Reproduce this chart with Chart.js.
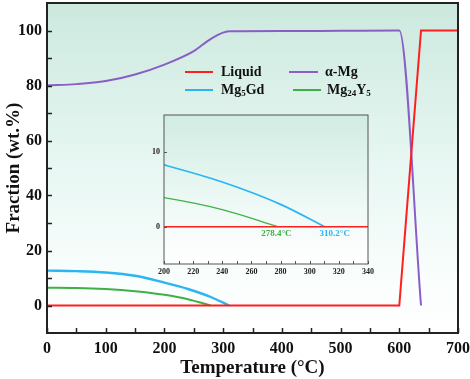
<!DOCTYPE html>
<html><head><meta charset="utf-8">
<script src="https://cdn.jsdelivr.net/npm/chart.js@4"></script>
<style>
html,body{margin:0;padding:0;background:#fff;}
#wrap{position:relative;width:470px;height:379px;overflow:hidden;}
#main{position:absolute;left:0;top:0;}
#inset{position:absolute;left:138px;top:108px;}
</style></head><body>
<div id="wrap">
<canvas id="main" width="470" height="379"></canvas>
<canvas id="inset" width="244" height="170"></canvas>
</div>
<script>
// ---- data ----
const liquidT = [0, 600, 637, 700];
const liquidF = [0, 0, 100, 100];
const alphaT = [0, 50, 100, 150, 200, 250, 278, 310, 400, 500, 600, 637];
const alphaF = [80, 80.5, 81.6, 84.0, 87.6, 92.5, 96.8, 99.7, 99.8, 99.9, 100, 0];
const gdT = [0, 50, 100, 150, 200, 240, 280, 310.2];
const gdF = [12.7, 12.5, 12.0, 10.8, 8.3, 6.0, 3.0, 0];
const yT = [0, 50, 100, 150, 200, 240, 278.4];
const yF = [6.5, 6.4, 6.0, 5.2, 3.9, 2.3, 0];
const seriesNames = ['Liquid', 'α-Mg', 'Mg5Gd', 'Mg24Y5'];
const seriesColors = ['#ff1f1f', '#8a5ec6', '#2bb6f2', '#3eb046'];
const xTickLabels = [0, 100, 200, 300, 400, 500, 600, 700];
const xMinorTicks = [50, 150, 250, 350, 450, 550, 650];
const yTickLabels = [0, 20, 40, 60, 80, 100];
const yMinorTicks = [10, 30, 50, 70, 90];
const insetXTicks = [200, 220, 240, 260, 280, 300, 320, 340];
const insetXMinor = [210, 230, 250, 270, 290, 310, 330];
const insetYTicks = [0, 10];
const annotT = [278.4, 310.2];
const annotText = ['278.4°C', '310.2°C'];

const pts = (t, f) => t.map((v, i) => ({x: v, y: f[i]}));
const SERIF = '"Liberation Serif", "Times New Roman", serif';

function makeDatasets(w) {
  return [
    {label: seriesNames[0], data: pts(liquidT, liquidF), borderColor: seriesColors[0], borderWidth: w},
    {label: seriesNames[1], data: pts(alphaT, alphaF), borderColor: seriesColors[1], borderWidth: w, cubicInterpolationMode: 'monotone'},
    {label: seriesNames[2], data: pts(gdT, gdF), borderColor: seriesColors[2], borderWidth: w + 0.4, cubicInterpolationMode: 'monotone'},
    {label: seriesNames[3], data: pts(yT, yF), borderColor: seriesColors[3], borderWidth: w, cubicInterpolationMode: 'monotone'}
  ].map(d => Object.assign(d, {pointRadius: 0, fill: false, tension: 0}));
}

function bgPlugin(stops) {
  return {
    id: 'bg',
    beforeDraw(chart) {
      const a = chart.chartArea, c = chart.ctx;
      const g = c.createLinearGradient(0, a.top, 0, a.bottom);
      stops.forEach(s => g.addColorStop(s[0], s[1]));
      c.save(); c.fillStyle = g; c.fillRect(a.left, a.top, a.right - a.left, a.bottom - a.top); c.restore();
    }
  };
}

function framePlugin(opts) {
  return {
    id: 'frame',
    afterDraw(chart) {
      const a = chart.chartArea, c = chart.ctx, xs = chart.scales.x, ys = chart.scales.y;
      c.save();
      c.strokeStyle = opts.color; c.lineWidth = opts.tickWidth;
      c.beginPath();
      opts.xMajor.concat(opts.xMinor).forEach(v => {
        const p = Math.round(xs.getPixelForValue(v)) + 0.5;
        c.moveTo(p, a.bottom); c.lineTo(p, a.bottom - opts.tick);
      });
      opts.yMajor.concat(opts.yMinor).forEach(v => {
        const p = Math.round(ys.getPixelForValue(v)) + 0.5;
        c.moveTo(a.left, p); c.lineTo(a.left + opts.tick, p);
      });
      c.stroke();
      c.lineWidth = opts.frameWidth;
      c.strokeRect(a.left, a.top, a.right - a.left, a.bottom - a.top);
      c.restore();
    }
  };
}

function drawSubLabel(c, parts, x, y, big, small) {
  let cx = x;
  parts.forEach(p => {
    if (p.sub) {
      c.font = 'bold ' + small + 'px ' + SERIF;
      c.fillText(p.t, cx, y + big * 0.28);
    } else {
      c.font = 'bold ' + big + 'px ' + SERIF;
      c.fillText(p.t, cx, y);
    }
    cx += c.measureText(p.t).width;
  });
}

const legendPlugin = {
  id: 'customLegend',
  afterDraw(chart) {
    const c = chart.ctx;
    const items = [
      {col: 0, lx: 185, lw: 28, tx: 221, y: 72, parts: [{t: 'Liquid'}]},
      {col: 1, lx: 289, lw: 29, tx: 325, y: 72, parts: [{t: 'α-Mg'}]},
      {col: 2, lx: 185, lw: 28, tx: 221, y: 90, parts: [{t: 'Mg'}, {t: '5', sub: 1}, {t: 'Gd'}]},
      {col: 3, lx: 293, lw: 28, tx: 327, y: 90, parts: [{t: 'Mg'}, {t: '24', sub: 1}, {t: 'Y'}, {t: '5', sub: 1}]}
    ];
    c.save();
    items.forEach(it => {
      c.strokeStyle = seriesColors[it.col]; c.lineWidth = 2;
      c.beginPath(); c.moveTo(it.lx, it.y); c.lineTo(it.lx + it.lw, it.y); c.stroke();
      c.fillStyle = '#111'; c.textBaseline = 'middle'; c.textAlign = 'left';
      drawSubLabel(c, it.parts, it.tx, it.y, 14, 9);
    });
    c.restore();
  }
};

const zeroPadX = s => { s.paddingLeft = 0; s.paddingRight = 0; };
const zeroPadY = s => { s.paddingTop = 0; s.paddingBottom = 0; };
const tickFont = {family: SERIF, size: 16, weight: 'bold'};
const noGrid = {display: false, drawTicks: false};

new Chart(document.getElementById('main'), {
  type: 'line',
  data: {datasets: makeDatasets(2)},
  options: {
    responsive: false, animation: false, devicePixelRatio: 1,
    layout: {padding: {top: 3, right: 12, left: 0, bottom: 0}},
    plugins: {legend: {display: false}, tooltip: {enabled: false}},
    scales: {
      x: {
        type: 'linear', min: 0, max: 700,
        afterBuildTicks: s => { s.ticks = xTickLabels.map(v => ({value: v})); },
        afterFit: s => { s.height = 46; zeroPadX(s); },
        grid: noGrid, border: {display: false},
        ticks: {font: tickFont, color: '#111', padding: 6, maxRotation: 0, autoSkip: false},
        title: {display: true, text: 'Temperature (°C)', font: {family: SERIF, size: 19, weight: 'bold'}, color: '#111', padding: {top: 0, bottom: 0}}
      },
      y: {
        type: 'linear', min: -10, max: 110,
        afterBuildTicks: s => { s.ticks = yTickLabels.map(v => ({value: v})); },
        afterFit: s => { s.width = 47; zeroPadY(s); },
        grid: noGrid, border: {display: false},
        ticks: {font: tickFont, color: '#111', padding: 5, autoSkip: false},
        title: {display: true, text: 'Fraction (wt.%)', font: {family: SERIF, size: 19, weight: 'bold'}, color: '#111', padding: {top: 3, bottom: 0}}
      }
    }
  },
  plugins: [
    bgPlugin([[0, 'rgb(204,233,222)'], [0.5, 'rgb(232,247,243)'], [0.85, 'rgb(250,254,253)'], [1, '#ffffff']]),
    framePlugin({color: '#222', tick: 5, tickWidth: 1.5, frameWidth: 2, xMajor: xTickLabels, xMinor: xMinorTicks, yMajor: yTickLabels, yMinor: yMinorTicks}),
    legendPlugin
  ]
});

const annotPlugin = {
  id: 'annot',
  afterDraw(chart) {
    const c = chart.ctx, xs = chart.scales.x, ys = chart.scales.y;
    const y0 = ys.getPixelForValue(0) + 7;
    const offs = [-17, -5];
    const cols = [seriesColors[3], seriesColors[2]];
    c.save();
    c.font = 'bold 9px ' + SERIF; c.textBaseline = 'middle'; c.textAlign = 'left';
    annotT.forEach((t, i) => {
      c.fillStyle = cols[i];
      c.fillText(annotText[i], xs.getPixelForValue(t) + offs[i], y0);
    });
    c.restore();
  }
};

const smallFont = {family: SERIF, size: 8, weight: 'bold'};
new Chart(document.getElementById('inset'), {
  type: 'line',
  data: {datasets: makeDatasets(1.3)},
  options: {
    responsive: false, animation: false, devicePixelRatio: 1,
    layout: {padding: {top: 7, right: 14, left: 0, bottom: 0}},
    plugins: {legend: {display: false}, tooltip: {enabled: false}},
    scales: {
      x: {
        type: 'linear', min: 200, max: 340,
        afterBuildTicks: s => { s.ticks = insetXTicks.map(v => ({value: v})); },
        afterFit: s => { s.height = 14; zeroPadX(s); },
        grid: noGrid, border: {display: false},
        ticks: {font: smallFont, color: '#222', padding: 3, maxRotation: 0, autoSkip: false}
      },
      y: {
        type: 'linear', min: -5, max: 15,
        afterBuildTicks: s => { s.ticks = insetYTicks.map(v => ({value: v})); },
        afterFit: s => { s.width = 26; zeroPadY(s); },
        grid: noGrid, border: {display: false},
        ticks: {font: smallFont, color: '#222', padding: 4, autoSkip: false}
      }
    }
  },
  plugins: [
    bgPlugin([[0, 'rgb(208,236,226)'], [0.6, 'rgb(238,249,246)'], [1, '#ffffff']]),
    framePlugin({color: '#555', tick: 3, tickWidth: 1, frameWidth: 1, xMajor: insetXTicks, xMinor: insetXMinor, yMajor: insetYTicks, yMinor: []}),
    annotPlugin
  ]
});
</script>
</body></html>
